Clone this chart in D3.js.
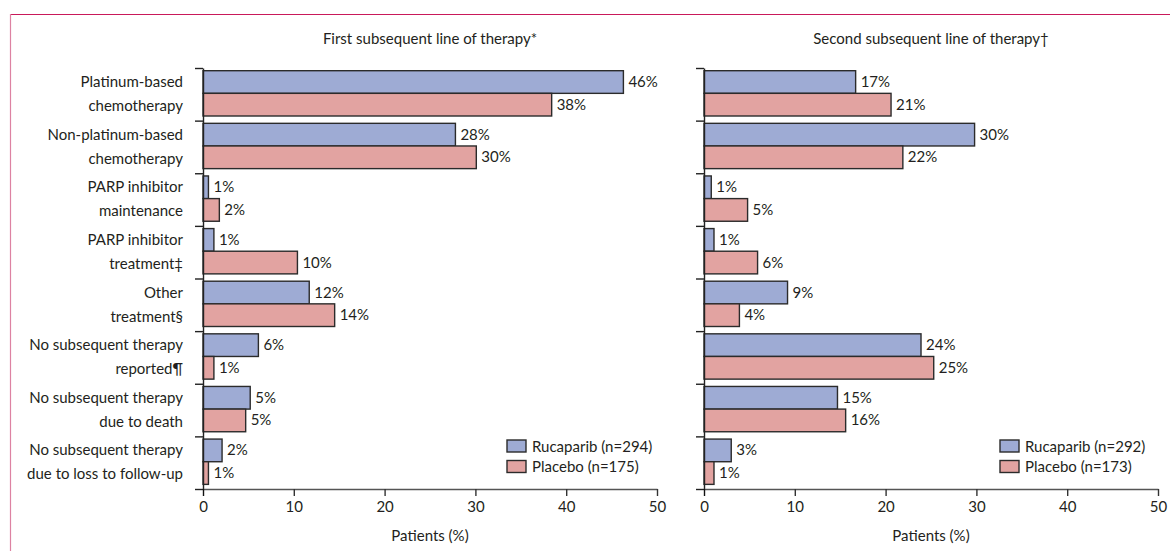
<!DOCTYPE html>
<html>
<head>
<meta charset="utf-8">
<script src="https://cdn.jsdelivr.net/npm/d3@7"></script>
<style>
  body { margin: 0; background: #fff; }
  svg { display: block; font-family: Lato, "Open Sans", sans-serif; }
  text { fill: #231f20; }
</style>
</head>
<body>
<svg id="chart" width="1170" height="551"></svg>
<script>
// category labels, two lines each
const categories = [
  ["Platinum-based", "chemotherapy"],
  ["Non-platinum-based", "chemotherapy"],
  ["PARP inhibitor", "maintenance"],
  ["PARP inhibitor", "treatment‡"],
  ["Other ", "treatment§"],
  ["No subsequent therapy", "reported¶"],
  ["No subsequent therapy", "due to death"],
  ["No subsequent therapy", "due to loss to follow-up"]
]

// first subsequent line (bar lengths as read, plus printed labels)
const firstRuc = [46.3, 27.8, 0.6, 1.2, 11.7, 6.1, 5.2, 2.1]
const firstPla = [38.4, 30.1, 1.8, 10.4, 14.5, 1.2, 4.7, 0.6]
const firstRucLabels = ["46%", "28%", "1%", "1%", "12%", "6%", "5%", "2%"]
const firstPlaLabels = ["38%", "30%", "2%", "10%", "14%", "1%", "5%", "1%"]

// second subsequent line
const secondRuc = [16.7, 29.8, 0.8, 1.1, 9.2, 23.9, 14.7, 3.0]
const secondPla = [20.6, 21.9, 4.8, 5.9, 3.9, 25.3, 15.6, 1.1]
const secondRucLabels = ["17%", "30%", "1%", "1%", "9%", "24%", "15%", "3%"]
const secondPlaLabels = ["21%", "22%", "5%", "6%", "4%", "25%", "16%", "1%"]

const xTicks = [0, 10, 20, 30, 40, 50]

const colors = {ruc: "#9eabd4", pla: "#e2a3a1"}
const fontSize = "15px"

let svg = d3.select("#chart")

// frame (top rule and left rule)
svg.append("line")
  .attr("x1", 10).attr("x2", 1170).attr("y1", 14.5).attr("y2", 14.5)
  .attr("stroke", "#c9195a").attr("stroke-width", 1.2)
svg.append("line")
  .attr("x1", 10.5).attr("x2", 10.5).attr("y1", 14).attr("y2", 551)
  .attr("stroke", "#dd82a2").attr("stroke-width", 1.2)

let plotTop = 68, plotBottom = 489

function draw_panel(left, right, title, ruc, pla, rucLabels, plaLabels, legend, showCats) {
  let x = d3.scaleLinear().domain([0, 50]).range([left, right])
  let y = d3.scaleBand().domain(d3.range(categories.length)).range([plotTop, plotBottom])
  let yTicks = d3.scaleLinear().domain([0, categories.length]).range([plotTop, plotBottom])
  let sub = d3.scaleBand().domain(["ruc", "pla"]).range([2.7, 48])

  let g = svg.append("g")

  g.append("text")
    .attr("x", (left + right) / 2).attr("y", 44)
    .attr("text-anchor", "middle")
    .style("font-size", fontSize)
    .text(title)

  let rows = categories.map((c, i) => ({i: i, ruc: ruc[i], pla: pla[i], rl: rucLabels[i], pl: plaLabels[i]}))

  let series = [
    {key: "ruc", val: d => d.ruc, lab: d => d.rl},
    {key: "pla", val: d => d.pla, lab: d => d.pl}
  ]

  series.forEach(s => {
    g.selectAll(null)
      .data(rows).enter()
      .append("rect")
      .attr("x", x(0))
      .attr("y", d => y(d.i) + sub(s.key))
      .attr("width", d => x(s.val(d)) - x(0))
      .attr("height", sub.bandwidth())
      .attr("fill", colors[s.key])
      .attr("stroke", "#2b2b2b")
      .attr("stroke-width", 1.4)

    g.selectAll(null)
      .data(rows).enter()
      .append("text")
      .attr("x", d => x(s.val(d)) + 5)
      .attr("y", d => y(d.i) + sub(s.key) + sub.bandwidth() / 2 + 5)
      .style("font-size", fontSize)
      .text(s.lab)
  })

  if (showCats) {
    categories.forEach((c, i) => {
      c.forEach((line, j) => {
        g.append("text")
          .attr("x", left - 20)
          .attr("y", y(i) + (j === 0 ? 19 : 43))
          .attr("text-anchor", "end")
          .style("font-size", fontSize)
          .text(line)
      })
    })
  }

  // y axis with ticks on category boundaries
  let yAxis = g.append("g")
    .attr("transform", `translate(${x(0)}, 0)`)
    .call(d3.axisLeft(yTicks).tickValues(d3.range(categories.length + 1)).tickFormat("").tickSize(8).tickSizeOuter(0))
  yAxis.select(".domain").attr("stroke", "#222").attr("stroke-width", 1.4)
  yAxis.selectAll(".tick line").attr("stroke", "#222").attr("stroke-width", 1.4)

  let xAxis = g.append("g")
    .attr("transform", `translate(0, ${plotBottom})`)
    .call(d3.axisBottom(x).tickValues(xTicks).tickSize(7).tickSizeOuter(0).tickPadding(5))
  xAxis.select(".domain").attr("stroke", "#555").attr("stroke-width", 1.6)
  xAxis.selectAll(".tick line").attr("stroke", "#333").attr("stroke-width", 1.4)
  xAxis.selectAll(".tick text")
    .style("font-size", fontSize)
    .style("font-family", "Lato, sans-serif")
    .attr("fill", "#231f20")
  // the zero tick runs black through the axis
  xAxis.selectAll(".tick line").filter(d => d === 0).attr("stroke", "#111")

  g.append("text")
    .attr("x", (left + right) / 2).attr("y", 541)
    .attr("text-anchor", "middle")
    .style("font-size", fontSize)
    .text("Patients (%)")

  // legend
  let lg = g.append("g").attr("transform", `translate(${legend.x}, 440)`)
  legend.items.forEach((it, k) => {
    lg.append("rect")
      .attr("x", 0).attr("y", k * 20.5)
      .attr("width", 19).attr("height", 12)
      .attr("fill", colors[it.key])
      .attr("stroke", "#2b2b2b").attr("stroke-width", 1.4)
    lg.append("text")
      .attr("x", 25).attr("y", k * 20.5 + 11.5)
      .style("font-size", fontSize)
      .text(it.text)
  })
}

draw_panel(203, 657, "First subsequent line of therapy*", firstRuc, firstPla,
  firstRucLabels, firstPlaLabels,
  {x: 507, items: [{key: "ruc", text: "Rucaparib (n=294)"}, {key: "pla", text: "Placebo (n=175)"}]}, true)

draw_panel(704, 1158, "Second subsequent line of therapy†", secondRuc, secondPla,
  secondRucLabels, secondPlaLabels,
  {x: 1000, items: [{key: "ruc", text: "Rucaparib (n=292)"}, {key: "pla", text: "Placebo (n=173)"}]}, false)
</script>
</body>
</html>
